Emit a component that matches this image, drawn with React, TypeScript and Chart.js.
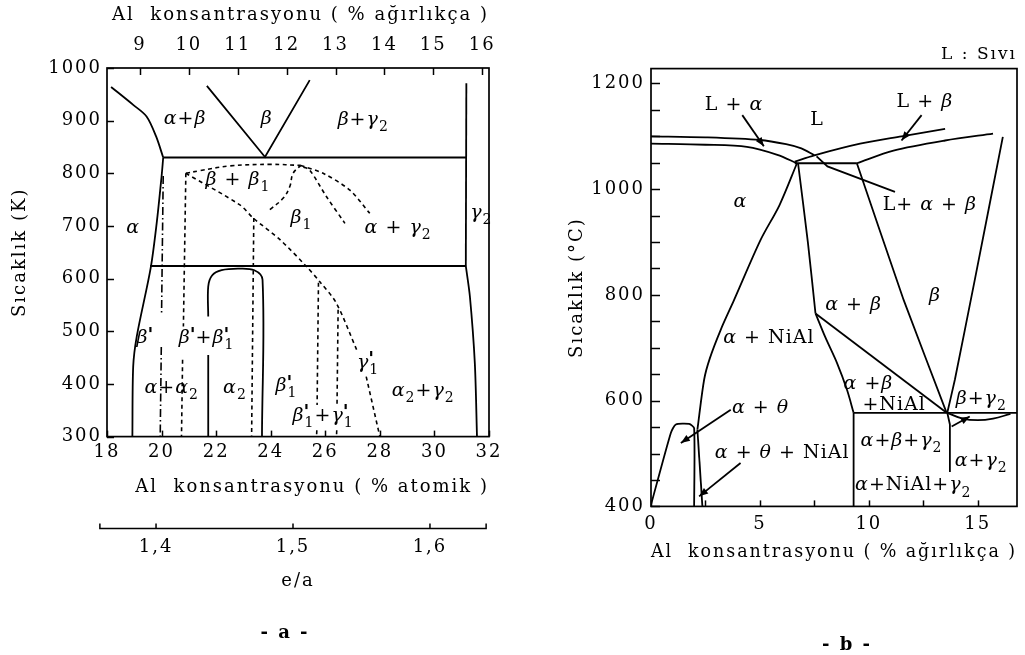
import React, { useEffect, useRef } from 'react';
import { Chart, registerables } from 'chart.js';

Chart.register(...registerables);

type Pt = [number, number];

const SERIF = '"DejaVu Serif", "Liberation Serif", serif';
const INK = '#000';

// ---------- Panel a: Al content (at.%) vs temperature (K) ----------
const aAtomicTicks = [18, 20, 22, 24, 26, 28, 30, 32];
const aWeightTicks = [9, 10, 11, 12, 13, 14, 15, 16];
const aTempTicks = [300, 400, 500, 600, 700, 800, 900, 1000];
const aEaTicks = [1.4, 1.5, 1.6];

// solid phase boundaries
const aAlphaUpper: Pt[] = [[18.15, 964], [18.96, 930], [19.45, 908], [19.8, 870], [20.06, 830]];
const aAlphaLower: Pt[] = [[20.06, 830], [20.0, 794], [19.82, 705], [19.6, 620], [19.09, 490], [18.96, 433], [18.93, 300]];
const aEutectoid830: Pt[] = [[20.06, 830], [31.17, 830]];
const aBetaV: Pt[] = [[21.66, 966], [23.79, 831], [25.43, 977]];
const aEutectoid625: Pt[] = [[19.58, 624], [31.15, 624]];
const aGamma2Upper: Pt[] = [[31.17, 971], [31.15, 624]];
const aGamma2Lower: Pt[] = [[31.15, 624], [31.3, 566], [31.48, 440], [31.56, 300]];
const aDomeArc: Pt[] = [[21.71, 528], [21.71, 585], [21.85, 606], [22.2, 616], [22.8, 619], [23.4, 616], [23.7, 598], [23.68, 300]];
const aDomeFoot: Pt[] = [[21.71, 455], [21.71, 300]];

// dashed (ordering / metastable) boundaries
const aDash21Upper: Pt[] = [[20.89, 800], [20.8, 509]];
const aDash21Lower: Pt[] = [[20.77, 446], [20.73, 300]];
const aCapDash: Pt[] = [[20.89, 800], [21.4, 805], [22.5, 814], [24.0, 817], [25.1, 815]];
const aDiagUpper: Pt[] = [[20.89, 800], [22.87, 740], [23.36, 715], [24.34, 674], [25.31, 623], [25.8, 594], [26.4, 554], [27.15, 465]];
const aDiagLower: Pt[] = [[27.5, 414], [28.0, 300]];
const aBeta1Edge: Pt[] = [[23.97, 731], [24.46, 753], [24.7, 775], [24.82, 800], [25.1, 815]];
const aRightDashOuter: Pt[] = [[25.1, 815], [25.92, 800], [26.9, 768], [27.63, 724]];
const aRightDashInner: Pt[] = [[25.2, 812], [25.43, 806], [26.04, 756], [26.72, 705]];
const aDash23: Pt[] = [[23.38, 715], [23.3, 300]];
const aDash26Upper: Pt[] = [[25.75, 592], [25.7, 360]];
const aDash26Lower: Pt[] = [[25.69, 312], [25.68, 300]];
const aDash265Upper: Pt[] = [[26.47, 541], [26.43, 360]];
const aDash265Lower: Pt[] = [[26.42, 312], [26.41, 300]];
const aDashDotUpper: Pt[] = [[20.06, 795], [20.0, 535]];
const aDashDotLower: Pt[] = [[19.99, 470], [19.95, 300]];

const aLabelText = ['α+β', 'β', 'β+γ_2', 'β + β_1', 'β_1', 'α + γ_2', 'γ_2', 'α', "β^'", "β^'+β^'_1", 'α+α_2', 'α_2', "β^'_1", "β^'_1+γ^'_1", "γ^'_1", 'α_2+γ_2'];
const aLabelX = [20.86, 23.85, 27.39, 22.8, 25.13, 28.67, 31.72, 18.96, 19.39, 21.65, 20.37, 22.69, 24.58, 25.92, 27.57, 29.59];
const aLabelY = [905, 905, 903, 790, 718, 699, 727, 699, 490, 490, 395, 395, 398, 342, 443, 389];

// ---------- Panel b: Al content (wt.%) vs temperature (°C) ----------
const bWeightTicks = [0, 2.5, 5, 7.5, 10, 12.5, 15];
const bTempTicks = [400, 450, 500, 550, 600, 650, 700, 750, 800, 850, 900, 950, 1000, 1050, 1100, 1150, 1200];

const bLiqAlpha: Pt[] = [[0, 1100], [2.5, 1098], [5.0, 1093], [6.2, 1085], [6.9, 1077], [7.5, 1064]];
const bSolAlpha: Pt[] = [[0, 1086], [2.5, 1084], [4.4, 1080], [5.8, 1065], [6.7, 1049]];
const bPeritectic: Pt[] = [[6.6, 1049], [9.45, 1049]];
const bLiqBeta: Pt[] = [[6.6, 1052], [7.5, 1064], [9.6, 1086], [11.5, 1100], [13.5, 1114]];
const bSolBeta: Pt[] = [[9.45, 1049], [11.13, 1073], [13.5, 1092], [15.7, 1105]];
const bLeader: Pt[] = [[7.6, 1062], [8.1, 1043], [11.2, 995]];
const bAlphaSolvus: Pt[] = [[6.7, 1049], [5.9, 970], [5.03, 904], [3.81, 790], [3.2, 734], [2.7, 680], [2.44, 640], [2.13, 545]];
const bAlphaSolvusFoot: Pt[] = [[2.13, 545], [2.36, 400]];
const bThetaDome: Pt[] = [[0, 403], [0.91, 539], [1.14, 555], [1.75, 556], [1.98, 548], [1.98, 400]];
const bAlphaBetaLeft: Pt[] = [[6.75, 1049], [7.2, 900], [7.55, 765]];
const bAlphaNiAl: Pt[] = [[7.55, 765], [8.0, 720], [8.54, 671], [9.0, 620], [9.3, 577]];
const bNiAlDiag: Pt[] = [[7.55, 765], [13.57, 577]];
const bBetaLeft: Pt[] = [[9.45, 1049], [11.6, 790], [13.57, 577]];
const bBetaRight: Pt[] = [[16.15, 1099], [14.86, 828], [13.95, 640], [13.6, 577]];
const bEutectoid: Pt[] = [[9.3, 577], [16.8, 577]];
const bVert93: Pt[] = [[9.3, 577], [9.3, 400]];
const bVert137: Pt[] = [[13.6, 577], [13.72, 555], [13.72, 465]];
const bLens: Pt[] = [[13.6, 577], [14.3, 566], [15.0, 563], [15.7, 566], [16.5, 575]];
const bArrowLa: Pt[] = [[4.19, 1140], [5.18, 1081]];
const bArrowLb: Pt[] = [[12.42, 1140], [11.5, 1092]];
const bArrowTheta: Pt[] = [[3.66, 583], [1.37, 520]];
const bArrowThetaNiAl: Pt[] = [[4.11, 482], [2.21, 419]];
const bArrowLens: Pt[] = [[13.8, 551], [14.63, 570]];

const bLabelText = ['L + α', 'L', 'L + β', 'α', 'L+ α + β', 'α + β', 'β', 'α + NiAl', 'α +β', '+NiAl', 'β+γ_2', 'α + θ', 'α + θ + NiAl', 'α+β+γ_2', 'α+γ_2', 'α+NiAl+γ_2'];
const bLabelX = [3.81, 7.62, 12.57, 4.11, 12.8, 9.3, 13.03, 5.41, 9.98, 11.16, 15.16, 5.03, 6.02, 11.5, 15.16, 12.04];
const bLabelY = [1162, 1133, 1168, 979, 973, 784, 800, 721, 633, 595, 605, 589, 504, 526, 489, 442];

// ---------- helpers ----------
type Style = 'solid' | 'dash' | 'dashdot';

function lineSet(pts: Pt[], style: Style = 'solid', tension = 0, arrow = false) {
  return {
    data: pts.map(([x, y]) => ({ x, y })),
    showLine: true,
    borderColor: INK,
    borderWidth: style === 'solid' ? 1.8 : 1.6,
    borderDash: style === 'dash' ? [4, 3.5] : style === 'dashdot' ? [8, 3, 1.5, 3] : [],
    tension,
    pointRadius: 0,
    pointHoverRadius: 0,
    fill: false,
    arrow,
  };
}

type Piece = { kind: 'base' | 'small'; text?: string; sup?: string; sub?: string };

// "_x" writes x as a subscript, "^x" as a superscript; "^x_y" stacks both
function parseRich(s: string): Piece[] {
  const out: Piece[] = [];
  const chars = Array.from(s);
  for (let i = 0; i < chars.length; i++) {
    const c = chars[i];
    if (c === '^') {
      const p: Piece = { kind: 'small', sup: chars[i + 1] };
      i++;
      if (chars[i + 1] === '_') {
        p.sub = chars[i + 2];
        i += 2;
      }
      out.push(p);
    } else if (c === '_') {
      out.push({ kind: 'small', sub: chars[i + 1] });
      i++;
    } else {
      out.push({ kind: 'base', text: c });
    }
  }
  return out;
}

const GREEK = /[\u0370-\u03ff]/;

function drawRich(ctx: CanvasRenderingContext2D, text: string, cx: number, cy: number, size = 19) {
  const pieces = parseRich(text);
  const small = Math.round(size * 0.72);
  const baseFont = (c: string) => `${GREEK.test(c) ? 'italic ' : ''}${size}px ${SERIF}`;
  const smallFont = `${small}px ${SERIF}`;
  const supFont = `bold ${size}px ${SERIF}`;
  const widths = pieces.map((p) => {
    if (p.kind === 'base') {
      ctx.font = baseFont(p.text!);
      return ctx.measureText(p.text!).width;
    }
    let w = 0;
    if (p.sup) {
      ctx.font = supFont;
      w = ctx.measureText(p.sup).width * 0.7;
    }
    if (p.sub) {
      ctx.font = smallFont;
      w = Math.max(w, ctx.measureText(p.sub).width);
    }
    return w;
  });
  const total = widths.reduce((a, b) => a + b, 0);
  let x = cx - total / 2;
  const base = cy + size * 0.33;
  ctx.textAlign = 'left';
  ctx.textBaseline = 'alphabetic';
  pieces.forEach((p, i) => {
    if (p.kind === 'base') {
      ctx.font = baseFont(p.text!);
      ctx.fillText(p.text!, x, base);
    } else {
      if (p.sup) {
        ctx.font = supFont;
        ctx.fillText(p.sup, x - 1, base - size * 0.12);
      }
      if (p.sub) {
        ctx.font = smallFont;
        ctx.fillText(p.sub, x, base + size * 0.32);
      }
    }
    x += widths[i];
  });
}

type DiagramCfg = {
  inTicks: { id: string; len: number }[];
  labels: { text: string[]; x: number[]; y: number[] };
  caption: { text: string; x: number; y: number };
  eaAxis?: { id: string; from: number; to: number };
};

function diagramPlugin(cfg: DiagramCfg) {
  const spacing = (chart: any) => {
    (chart.ctx as any).letterSpacing = '2px';
  };
  return {
    id: 'diagram',
    beforeUpdate: spacing,
    beforeDraw: spacing,
    afterDatasetsDraw(chart: any) {
      const ctx: CanvasRenderingContext2D = chart.ctx;
      const area = chart.chartArea;
      ctx.save();
      ctx.strokeStyle = INK;
      ctx.fillStyle = INK;
      ctx.lineWidth = 1.7;
      ctx.setLineDash([]);
      ctx.strokeRect(area.left, area.top, area.right - area.left, area.bottom - area.top);

      // inward tick marks
      ctx.lineWidth = 1.5;
      for (const t of cfg.inTicks) {
        const sc = chart.scales[t.id];
        if (!sc) continue;
        for (const tk of sc.ticks) {
          const p = Math.round(sc.getPixelForValue(tk.value)) + 0.5;
          ctx.beginPath();
          if (sc.position === 'bottom') {
            ctx.moveTo(p, area.bottom);
            ctx.lineTo(p, area.bottom - t.len);
          } else if (sc.position === 'top') {
            ctx.moveTo(p, area.top);
            ctx.lineTo(p, area.top + t.len);
          } else {
            ctx.moveTo(area.left, p);
            ctx.lineTo(area.left + t.len, p);
          }
          ctx.stroke();
        }
      }

      // detached e/a scale line with upward ticks
      if (cfg.eaAxis) {
        const sc = chart.scales[cfg.eaAxis.id];
        const y = Math.round(sc.top) + 0.5;
        const x0 = sc.getPixelForValue(cfg.eaAxis.from);
        const x1 = sc.getPixelForValue(cfg.eaAxis.to);
        ctx.lineWidth = 1.5;
        ctx.beginPath();
        ctx.moveTo(x0, y - 5);
        ctx.lineTo(x0, y);
        ctx.lineTo(x1, y);
        ctx.lineTo(x1, y - 5);
        for (const tk of sc.ticks) {
          const p = sc.getPixelForValue(tk.value);
          ctx.moveTo(p, y);
          ctx.lineTo(p, y - 5);
        }
        ctx.stroke();
      }

      // arrowheads on leader lines
      chart.data.datasets.forEach((ds: any, i: number) => {
        if (!ds.arrow) return;
        const pts = chart.getDatasetMeta(i).data;
        const a = pts[pts.length - 2];
        const b = pts[pts.length - 1];
        const ang = Math.atan2(b.y - a.y, b.x - a.x);
        const L = 9;
        const W = 3.5;
        ctx.beginPath();
        ctx.moveTo(b.x, b.y);
        ctx.lineTo(b.x - L * Math.cos(ang) + W * Math.sin(ang), b.y - L * Math.sin(ang) - W * Math.cos(ang));
        ctx.lineTo(b.x - L * Math.cos(ang) - W * Math.sin(ang), b.y - L * Math.sin(ang) + W * Math.cos(ang));
        ctx.closePath();
        ctx.fill();
      });

      // phase-field labels
      (ctx as any).letterSpacing = '1px';
      const xs = chart.scales.x;
      const ys = chart.scales.y;
      cfg.labels.text.forEach((txt, i) => {
        drawRich(ctx, txt, xs.getPixelForValue(cfg.labels.x[i]), ys.getPixelForValue(cfg.labels.y[i]));
      });

      // panel caption
      (ctx as any).letterSpacing = '2px';
      ctx.font = `bold 18px ${SERIF}`;
      ctx.textAlign = 'center';
      ctx.textBaseline = 'middle';
      ctx.fillText(cfg.caption.text, cfg.caption.x, cfg.caption.y);
      ctx.restore();
    },
  };
}

const tickFont = { family: SERIF, size: 18 };
const titleFont = { family: SERIF, size: 18 };
const noGrid = { display: false, drawTicks: false };
const noBorder = { display: false };
const fromList = (list: number[]) => (s: any) => {
  s.ticks = list.map((value) => ({ value }));
};

function buildA(): any {
  const datasets = [
    lineSet(aAlphaUpper, 'solid', 0.3),
    lineSet(aAlphaLower, 'solid', 0.3),
    lineSet(aEutectoid830),
    lineSet(aBetaV),
    lineSet(aEutectoid625),
    lineSet(aGamma2Upper),
    lineSet(aGamma2Lower, 'solid', 0.3),
    lineSet(aDomeArc, 'solid', 0.35),
    lineSet(aDomeFoot),
    lineSet(aDash21Upper, 'dash'),
    lineSet(aDash21Lower, 'dash'),
    lineSet(aCapDash, 'dash', 0.4),
    lineSet(aDiagUpper, 'dash', 0.3),
    lineSet(aDiagLower, 'dash'),
    lineSet(aBeta1Edge, 'dash', 0.4),
    lineSet(aRightDashOuter, 'dash', 0.3),
    lineSet(aRightDashInner, 'dash', 0.3),
    lineSet(aDash23, 'dash'),
    lineSet(aDash26Upper, 'dash'),
    lineSet(aDash26Lower, 'dash'),
    lineSet(aDash265Upper, 'dash'),
    lineSet(aDash265Lower, 'dash'),
    lineSet(aDashDotUpper, 'dashdot'),
    lineSet(aDashDotLower, 'dashdot'),
  ];
  return {
    type: 'scatter',
    data: { datasets },
    options: {
      responsive: false,
      animation: false,
      events: [],
      layout: { padding: { left: 0, right: 51, top: 0, bottom: 62.8 } },
      plugins: { legend: { display: false }, tooltip: { enabled: false }, title: { display: false } },
      scales: {
        x: {
          type: 'linear', position: 'bottom', weight: 0, min: 18, max: 32,
          grid: noGrid, border: noBorder,
          afterBuildTicks: fromList(aAtomicTicks),
          ticks: { padding: 5, font: tickFont, color: INK, callback: (v: number) => String(v) },
          title: { display: true, text: 'Al  konsantrasyonu ( % atomik )', align: 'end', font: titleFont, color: INK, padding: { top: 11, bottom: 29.2 } },
          afterFit: (s: any) => { s.height = 91; },
        },
        ea: {
          type: 'linear', position: 'bottom', weight: 1, min: 1.3642, max: 1.6431,
          grid: noGrid, border: noBorder,
          afterBuildTicks: fromList(aEaTicks),
          ticks: { padding: 9.4, font: tickFont, color: INK, callback: (v: number) => Number(v).toFixed(1).replace('.', ',') },
          title: { display: true, text: 'e/a', font: titleFont, color: INK, padding: { top: 5, bottom: 0 } },
          afterFit: (s: any) => { s.height = 64.6; },
        },
        x2: {
          type: 'linear', position: 'top', min: 8.325, max: 16.14,
          grid: noGrid, border: noBorder,
          afterBuildTicks: fromList(aWeightTicks),
          ticks: { padding: 11.4, font: tickFont, color: INK, callback: (v: number) => String(v) },
          title: { display: true, text: 'Al  konsantrasyonu ( % ağırlıkça )', align: 'end', font: titleFont, color: INK, padding: { top: 4.2, bottom: 0.8 } },
          afterFit: (s: any) => { s.height = 68; },
        },
        y: {
          type: 'linear', position: 'left', min: 300, max: 1000,
          grid: noGrid, border: noBorder,
          afterBuildTicks: fromList(aTempTicks),
          ticks: { padding: 5, font: tickFont, color: INK, callback: (v: number) => String(v) },
          title: { display: true, text: 'Sıcaklık (K)', font: titleFont, color: INK, padding: { top: 9.2, bottom: 0 } },
          afterFit: (s: any) => { s.width = 107; },
        },
      },
    },
    plugins: [
      diagramPlugin({
        inTicks: [{ id: 'x', len: 6 }, { id: 'x2', len: 7 }, { id: 'y', len: 7 }],
        labels: { text: aLabelText, x: aLabelX, y: aLabelY },
        caption: { text: '- a -', x: 285, y: 633 },
        eaAxis: { id: 'ea', from: 1.359, to: 1.641 },
      }),
    ],
  };
}

function buildB(): any {
  const datasets = [
    lineSet(bLiqAlpha, 'solid', 0.3),
    lineSet(bSolAlpha, 'solid', 0.3),
    lineSet(bPeritectic),
    lineSet(bLiqBeta, 'solid', 0.3),
    lineSet(bSolBeta, 'solid', 0.3),
    lineSet(bLeader),
    lineSet(bAlphaSolvus, 'solid', 0.3),
    lineSet(bAlphaSolvusFoot),
    lineSet(bThetaDome, 'solid', 0.2),
    lineSet(bAlphaBetaLeft, 'solid', 0.2),
    lineSet(bAlphaNiAl, 'solid', 0.3),
    lineSet(bNiAlDiag),
    lineSet(bBetaLeft, 'solid', 0.1),
    lineSet(bBetaRight, 'solid', 0.1),
    lineSet(bEutectoid),
    lineSet(bVert93),
    lineSet(bVert137),
    lineSet(bLens, 'solid', 0.4),
    lineSet(bArrowLa, 'solid', 0, true),
    lineSet(bArrowLb, 'solid', 0, true),
    lineSet(bArrowTheta, 'solid', 0, true),
    lineSet(bArrowThetaNiAl, 'solid', 0, true),
    lineSet(bArrowLens, 'solid', 0, true),
  ];
  return {
    type: 'scatter',
    data: { datasets },
    options: {
      responsive: false,
      animation: false,
      events: [],
      layout: { padding: { left: 0, right: 8, top: 0, bottom: 91.8 } },
      plugins: {
        legend: { display: false },
        tooltip: { enabled: false },
        title: { display: true, text: 'L : Sıvı', align: 'end', position: 'top', font: { family: SERIF, size: 17, weight: 'normal' }, color: INK, padding: { top: 44.8, bottom: 3.4 } },
      },
      scales: {
        x: {
          type: 'linear', position: 'bottom', min: 0, max: 16.8,
          grid: noGrid, border: noBorder,
          afterBuildTicks: fromList(bWeightTicks),
          ticks: { padding: 7.4, font: tickFont, color: INK, callback: (v: number) => (v % 5 === 0 ? String(v) : '') },
          title: { display: true, text: 'Al  konsantrasyonu ( % ağırlıkça )', font: titleFont, color: INK, padding: { top: 1, bottom: 0 } },
          afterFit: (s: any) => { s.height = 56.8; },
        },
        y: {
          type: 'linear', position: 'left', min: 400, max: 1228,
          grid: noGrid, border: noBorder,
          afterBuildTicks: fromList(bTempTicks),
          ticks: { padding: 6, font: tickFont, color: INK, callback: (v: number) => (v % 200 === 0 ? String(v) : '') },
          title: { display: true, text: 'Sıcaklık (°C)', font: titleFont, color: INK, padding: { top: 26.2, bottom: 0 } },
          afterFit: (s: any) => { s.width = 111; },
        },
      },
    },
    plugins: [
      diagramPlugin({
        inTicks: [{ id: 'x', len: 6 }, { id: 'y', len: 9 }],
        labels: { text: bLabelText, x: bLabelX, y: bLabelY },
        caption: { text: '- b -', x: 307, y: 645 },
      }),
    ],
  };
}

function Panel({ build, left, width }: { build: () => any; left: number; width: number }) {
  const ref = useRef<HTMLCanvasElement>(null);
  useEffect(() => {
    const chart = new Chart(ref.current as HTMLCanvasElement, build());
    return () => chart.destroy();
  }, [build]);
  return (
    <canvas
      ref={ref}
      width={width}
      height={655}
      style={{ position: 'absolute', left, top: 0, width, height: 655, display: 'block' }}
    />
  );
}

export default function App() {
  return (
    <div style={{ position: 'fixed', left: 0, top: 0, width: 1025, height: 655, background: '#fff', overflow: 'hidden' }}>
      <Panel build={buildA} left={0} width={540} />
      <Panel build={buildB} left={540} width={485} />
    </div>
  );
}
